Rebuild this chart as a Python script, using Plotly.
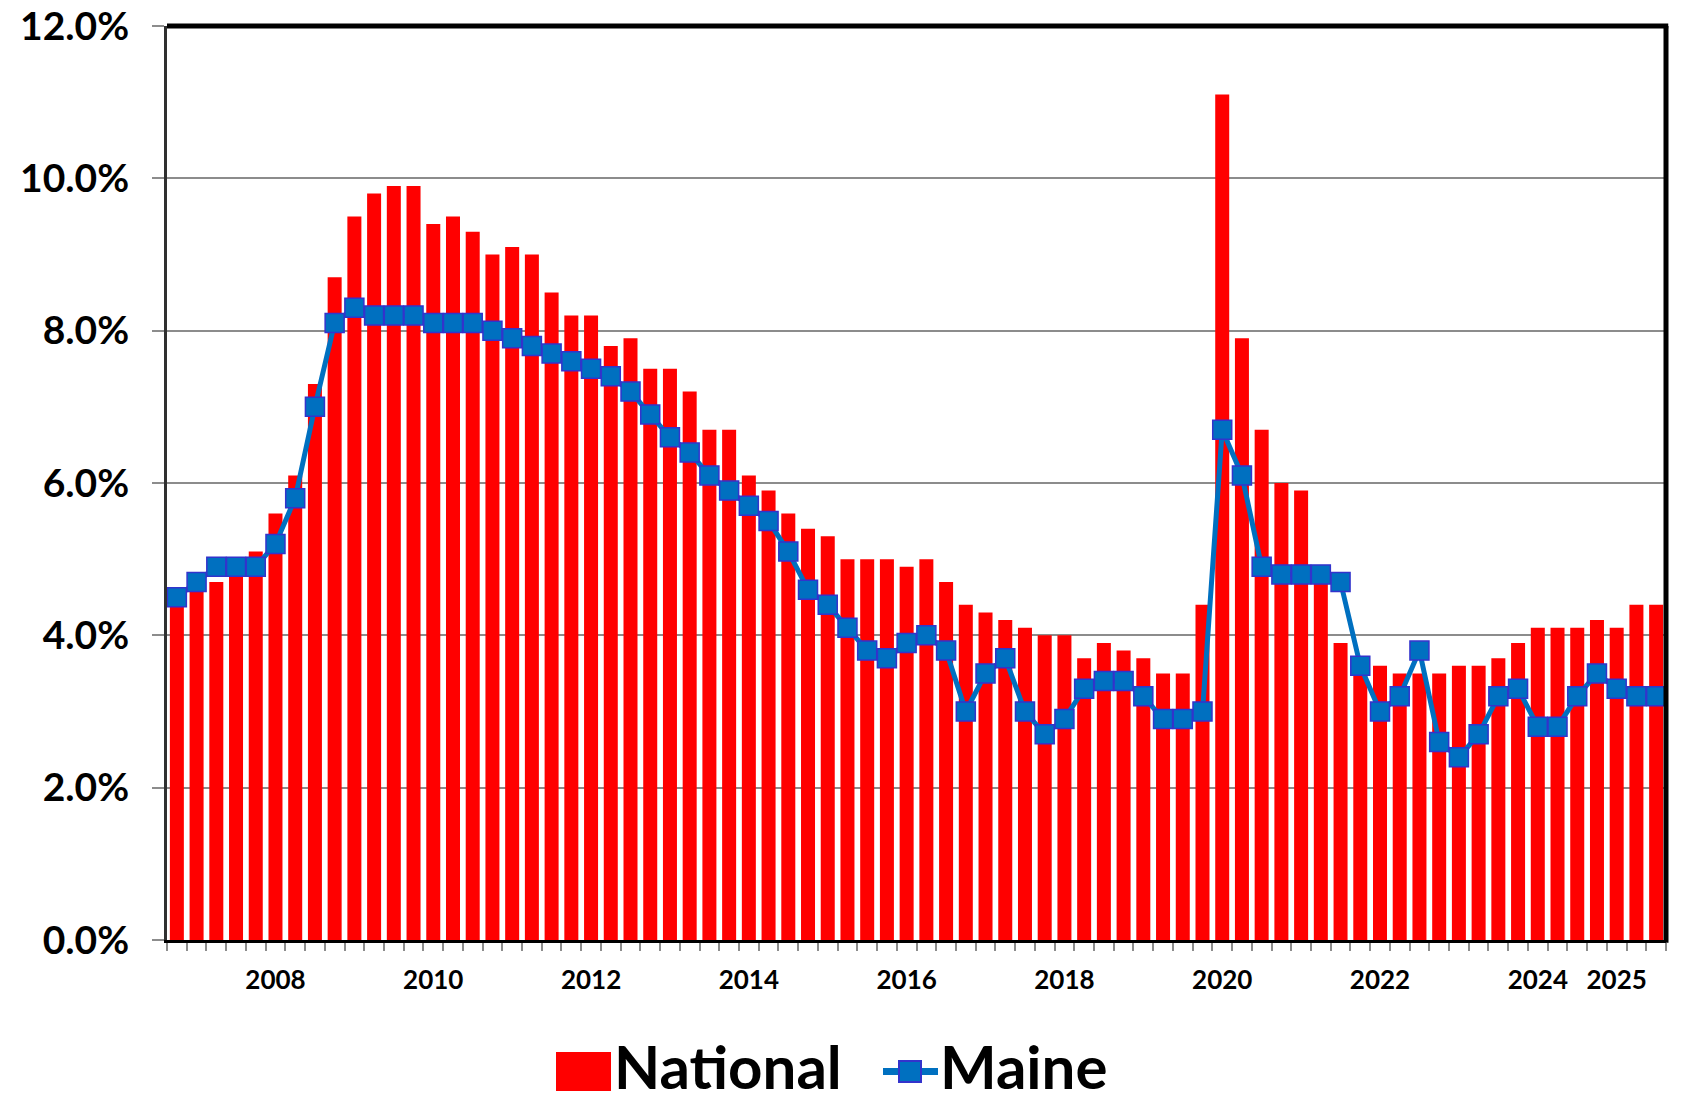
import plotly.graph_objects as go

# ---------------- data (quarterly, 2007 Q1 .. 2025 Q4) ----------------
national = [4.4, 4.6, 4.7, 5.0, 5.1, 5.6, 6.1, 7.3, 8.7, 9.5,
            9.8, 9.9, 9.9, 9.4, 9.5, 9.3, 9.0, 9.1, 9.0, 8.5,
            8.2, 8.2, 7.8, 7.9, 7.5, 7.5, 7.2, 6.7, 6.7, 6.1,
            5.9, 5.6, 5.4, 5.3, 5.0, 5.0, 5.0, 4.9, 5.0, 4.7,
            4.4, 4.3, 4.2, 4.1, 4.0, 4.0, 3.7, 3.9, 3.8, 3.7,
            3.5, 3.5, 4.4, 11.1, 7.9, 6.7, 6.0, 5.9, 4.7, 3.9,
            3.6, 3.6, 3.5, 3.5, 3.5, 3.6, 3.6, 3.7, 3.9, 4.1,
            4.1, 4.1, 4.2, 4.1, 4.4, 4.4]
maine = [4.5, 4.7, 4.9, 4.9, 4.9, 5.2, 5.8, 7.0, 8.1, 8.3,
         8.2, 8.2, 8.2, 8.1, 8.1, 8.1, 8.0, 7.9, 7.8, 7.7,
         7.6, 7.5, 7.4, 7.2, 6.9, 6.6, 6.4, 6.1, 5.9, 5.7,
         5.5, 5.1, 4.6, 4.4, 4.1, 3.8, 3.7, 3.9, 4.0, 3.8,
         3.0, 3.5, 3.7, 3.0, 2.7, 2.9, 3.3, 3.4, 3.4, 3.2,
         2.9, 2.9, 3.0, 6.7, 6.1, 4.9, 4.8, 4.8, 4.8, 4.7,
         3.6, 3.0, 3.2, 3.8, 2.6, 2.4, 2.7, 3.2, 3.3, 2.8,
         2.8, 3.2, 3.5, 3.3, 3.2, 3.2]
year_labels = ["2008", "2010", "2012", "2014", "2016", "2018",
               "2020", "2022", "2024", "2025"]
year_label_idx = [5, 13, 21, 29, 37, 45, 53, 61, 69, 73]

quarters = [f"{2007 + i // 4} Q{i % 4 + 1}" for i in range(len(national))]
x = list(range(len(national)))

# ---------------- layout geometry (pixels) ----------------
W, H = 1691, 1102
L, R, T, B = 167, 1666, 26, 940


def px_x(p):
    return (p - L) / (R - L)


def px_y(p):
    return (B - p) / (B - T)


FONT = "Lato"

fig = go.Figure()
fig.add_bar(x=x, y=national, name="National", hovertext=quarters,
            marker=dict(color="#FF0000", line=dict(width=0)))
fig.add_scatter(x=x, y=maine, name="Maine", mode="lines+markers",
                hovertext=quarters,
                line=dict(color="#0070C0", width=5),
                marker=dict(symbol="square", size=19, color="#0070C0",
                            line=dict(color="#3333CC", width=1.5)))

fig.update_layout(
    width=W, height=H,
    margin=dict(l=L, r=W - R, t=T, b=H - B, pad=0, autoexpand=False),
    plot_bgcolor="white", paper_bgcolor="white",
    showlegend=False, bargap=0.29,
)

fig.update_xaxes(
    range=[-0.5, len(x) - 0.5], automargin=False,
    tickmode="array", tickvals=year_label_idx, ticktext=year_labels,
    ticks="", showgrid=False, zeroline=False,
    showline=True, linecolor="black", linewidth=3,
    tickfont=dict(family=FONT, size=26, color="black", weight="bold"),
    ticklabelstandoff=15,
    minor=dict(tick0=-0.5, dtick=1, ticks="outside", ticklen=8,
               tickwidth=2, tickcolor="#8c8c8c", showgrid=False),
)
fig.update_yaxes(
    range=[0, 12], dtick=2, tick0=0, tickformat=".1f", ticksuffix="%",
    automargin=False,
    showgrid=True, gridcolor="#8c8c8c", gridwidth=2, zeroline=False,
    showline=True, linecolor="#303030", linewidth=3,
    ticks="outside", ticklen=12, tickwidth=2, tickcolor="#8c8c8c",
    tickfont=dict(family=FONT, size=39, color="black", weight="bold"),
    ticklabelstandoff=15,
)

shapes = [
    # top and right frame
    dict(type="line", xref="paper", yref="paper", x0=0, x1=1.0015, y0=1, y1=1,
         line=dict(color="black", width=5)),
    dict(type="line", xref="paper", yref="paper", x0=1, x1=1, y0=-0.003, y1=1,
         line=dict(color="black", width=5)),
    # legend: National key
    dict(type="rect", xref="paper", yref="paper",
         x0=px_x(556), x1=px_x(611), y0=px_y(1091), y1=px_y(1052),
         fillcolor="#FF0000", line=dict(width=0)),
    # legend: Maine key
    dict(type="line", xref="paper", yref="paper",
         x0=px_x(883), x1=px_x(938), y0=px_y(1071.5), y1=px_y(1071.5),
         line=dict(color="#0070C0", width=7)),
    dict(type="rect", xref="paper", yref="paper",
         x0=px_x(899), x1=px_x(921), y0=px_y(1082), y1=px_y(1061),
         fillcolor="#0070C0", line=dict(color="#3333CC", width=2)),
]
annotations = [
    dict(text="National", xref="paper", yref="paper", x=px_x(612), y=px_y(1065.5),
         xanchor="left", yanchor="middle", showarrow=False,
         font=dict(family=FONT, size=60, color="black", weight="bold")),
    dict(text="Maine", xref="paper", yref="paper", x=px_x(938), y=px_y(1065.5),
         xanchor="left", yanchor="middle", showarrow=False,
         font=dict(family=FONT, size=60, color="black", weight="bold")),
]
fig.update_layout(shapes=shapes, annotations=annotations)

fig.write_html("out.html", config={"displayModeBar": False},
               post_script="document.body.style.margin='0';")
